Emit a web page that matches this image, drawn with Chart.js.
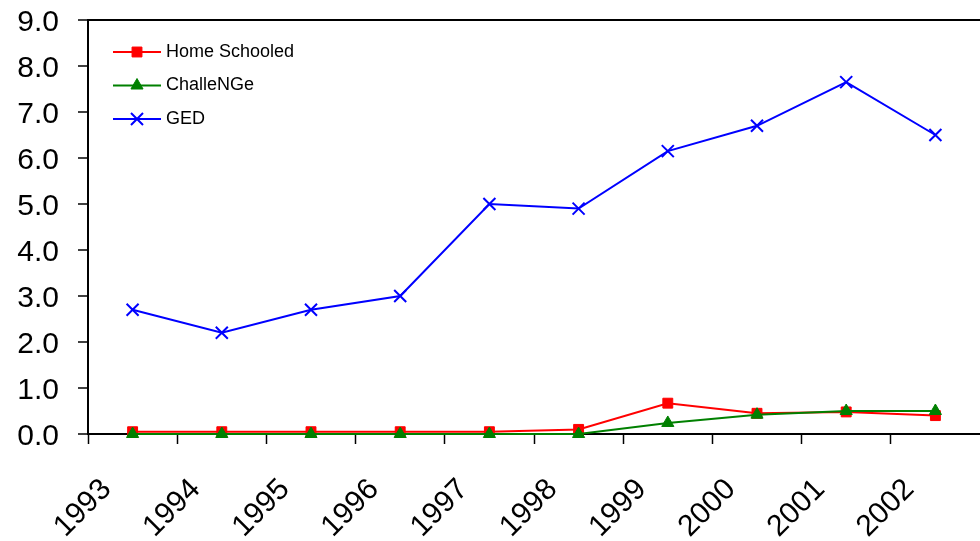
<!DOCTYPE html>
<html>
<head>
<meta charset="utf-8">
<script src="https://cdn.jsdelivr.net/npm/chart.js@4/dist/chart.umd.min.js"></script>
<style>
  html, body { margin: 0; padding: 0; background: #fff; }
  #wrap { width: 980px; height: 541px; position: relative; }
</style>
</head>
<body>
<div id="wrap"><canvas id="chart"></canvas></div>
<script>
// Data
const years = ["1993", "1994", "1995", "1996", "1997", "1998", "1999", "2000", "2001", "2002"];
const homeSchooled = [0.05, 0.05, 0.05, 0.05, 0.05, 0.1, 0.67, 0.45, 0.48, 0.4];
const challenge = [0, 0, 0, 0, 0, 0, 0.24, 0.42, 0.5, 0.5];
const ged = [2.7, 2.2, 2.7, 3.0, 5.0, 4.9, 6.15, 6.7, 7.65, 6.5];
const yMin = 0;
const yMax = 9;
const yStep = 1;

const FONT = '"Liberation Sans", Arial, sans-serif';

// legend drawn inside the plot, top left (line + marker + label)
const insideLegend = {
  id: "insideLegend",
  afterDraw(chart) {
    const ctx = chart.ctx;
    const area = chart.chartArea;
    ctx.save();
    ctx.font = "18px " + FONT;
    ctx.textBaseline = "middle";
    ctx.textAlign = "left";
    chart.data.datasets.forEach(function (ds, i) {
      const y = area.top + 32 + i * 33.5;
      const x0 = area.left + 25;
      ctx.strokeStyle = ds.borderColor;
      ctx.lineWidth = 2;
      ctx.beginPath();
      ctx.moveTo(x0, y);
      ctx.lineTo(x0 + 48, y);
      ctx.stroke();
      ctx.fillStyle = ds.pointBackgroundColor;
      ctx.strokeStyle = ds.pointBorderColor;
      ctx.lineWidth = ds.pointBorderWidth;
      Chart.helpers.drawPoint(ctx, {
        pointStyle: ds.pointStyle,
        radius: ds.pointRadius,
        rotation: 0,
        borderWidth: ds.pointBorderWidth,
      }, x0 + 24, y);
      ctx.fillStyle = "#000";
      ctx.fillText(ds.label, x0 + 53, y);
    });
    ctx.restore();
  },
};

new Chart(document.getElementById("chart"), {
  type: "line",
  data: {
    labels: years,
    datasets: [
      {
        label: "Home Schooled",
        data: homeSchooled,
        borderColor: "#ff0000",
        backgroundColor: "#ff0000",
        pointBackgroundColor: "#ff0000",
        pointBorderColor: "#ff0000",
        pointBorderWidth: 1,
        pointStyle: "rect",
        pointRadius: 7,
        borderWidth: 2,
        order: 1,
      },
      {
        label: "ChalleNGe",
        data: challenge,
        borderColor: "#008000",
        backgroundColor: "#008000",
        pointBackgroundColor: "#008000",
        pointBorderColor: "#008000",
        pointBorderWidth: 1,
        pointStyle: "triangle",
        pointRadius: 7,
        borderWidth: 2,
        order: 0,
      },
      {
        label: "GED",
        data: ged,
        borderColor: "#0000ff",
        backgroundColor: "#0000ff",
        pointBackgroundColor: "#0000ff",
        pointBorderColor: "#0000ff",
        pointBorderWidth: 2,
        pointStyle: "crossRot",
        pointRadius: 8.5,
        borderWidth: 2,
        order: 2,
      },
    ],
  },
  options: {
    responsive: true,
    maintainAspectRatio: false,
    animation: false,
    clip: false,
    layout: { autoPadding: false, padding: { top: 20, right: 0, left: 0, bottom: 0 } },
    plugins: {
      legend: { display: false },
      tooltip: { enabled: false },
    },
    scales: {
      x: {
        type: "category",
        offset: true,
        border: { display: true, color: "#000", width: 2 },
        grid: {
          offset: true,
          drawOnChartArea: false,
          drawTicks: true,
          tickLength: 10,
          tickColor: function (c) {
            // last boundary tick sits off the right edge in the original
            return c.type === "tick" ? "#000" : "rgba(0,0,0,0)";
          },
          tickWidth: 1.5,
        },
        ticks: {
          color: "#000",
          font: { family: FONT, size: 30 },
          minRotation: 45,
          maxRotation: 45,
          autoSkip: false,
          labelOffset: -26,
          padding: 28,
        },
        afterFit: function (scale) {
          scale.height = 107;
          scale.paddingLeft = 0;
          scale.paddingRight = 0;
        },
      },
      y: {
        min: yMin,
        max: yMax,
        border: { display: true, color: "#000", width: 2 },
        grid: {
          drawOnChartArea: true,
          color: function (c) {
            return c.tick && c.tick.value === yMax ? "#000" : "rgba(0,0,0,0)";
          },
          lineWidth: 2,
          tickLength: 10,
          tickColor: "#000",
          tickWidth: 1.5,
        },
        ticks: {
          stepSize: yStep,
          color: "#000",
          font: { family: FONT, size: 30 },
          padding: 19,
          labelOffset: 3,
          callback: function (v) {
            return Number(v).toFixed(1);
          },
        },
        afterFit: function (scale) {
          scale.width = 88;
          scale.paddingTop = 0;
          scale.paddingBottom = 0;
        },
      },
    },
  },
  plugins: [insideLegend],
});
</script>
</body>
</html>
